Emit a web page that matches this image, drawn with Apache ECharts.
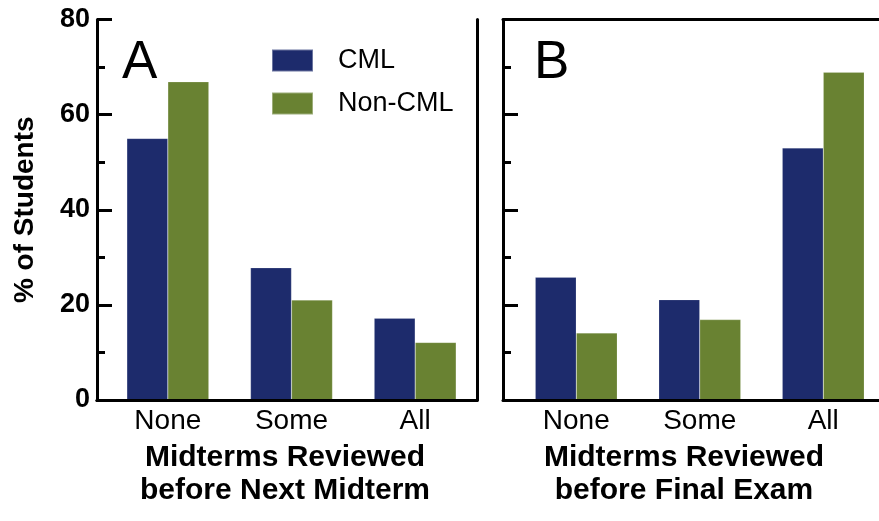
<!DOCTYPE html>
<html>
<head>
<meta charset="utf-8">
<script src="https://cdn.jsdelivr.net/npm/echarts@6/dist/echarts.min.js"></script>
<style>
  html, body { margin: 0; padding: 0; background: #fff; }
  #chart { width: 879px; height: 521px; }
</style>
</head>
<body>
<div id="chart"></div>
<script>
// Survey categories and percentages for the two panels
const categories = ['None', 'Some', 'All'];
const seriesNames = ['CML', 'Non-CML'];
const cmlBeforeNextMidterm = [55, 27.8, 17.2];
const nonCmlBeforeNextMidterm = [66.9, 21, 12.1];
const cmlBeforeFinal = [25.8, 21.1, 53];
const nonCmlBeforeFinal = [14.1, 16.9, 68.9];
const yTicks = [0, 20, 40, 60, 80];

const FONT = '"Liberation Sans", Arial, Helvetica, sans-serif';
const BLUE = '#1d2b6c';
const GREEN = '#698232';

const chart = echarts.init(document.getElementById('chart'));

const panelTop = 19.5, panelHeight = 380.5;
const yMin = yTicks[0], yMax = yTicks[yTicks.length - 1], yStep = yTicks[1] - yTicks[0];

function frameLine() { return { color: '#000', width: 3 }; }

// Left axis of a panel: line and optional labels / name
function frameY(gridIndex, showLabels, withName) {
  return {
    type: 'value', gridIndex: gridIndex, z: 50,
    min: yMin, max: yMax, interval: yStep,
    axisLine: { show: true, lineStyle: frameLine() },
    axisTick: { show: false },
    splitLine: { show: false },
    axisLabel: {
      show: showLabels, margin: 7, color: '#000',
      fontFamily: FONT, fontWeight: 'bold', fontSize: 27
    },
    name: withName ? '% of Students' : '',
    nameLocation: 'middle', nameGap: 58,
    nameTextStyle: { color: '#000', fontFamily: FONT, fontWeight: 'bold', fontSize: 28 }
  };
}

// Inward tick marks: split lines of a narrow strip along the left axis
function tickY(gridIndex, step) {
  return {
    type: 'value', gridIndex: gridIndex, z: 50,
    min: yMin, max: yMax, interval: step,
    axisLine: { show: false }, axisTick: { show: false }, axisLabel: { show: false },
    splitLine: { show: true, lineStyle: frameLine() }
  };
}
function hiddenX(gridIndex) {
  return { type: 'category', gridIndex: gridIndex, data: categories, show: false };
}

// Plain border lines on panel sides
function borderY(gridIndex) {
  return {
    type: 'value', gridIndex: gridIndex, position: 'right', z: 50,
    min: yMin, max: yMax, interval: yStep,
    axisLine: { show: true, lineStyle: frameLine() },
    axisTick: { show: false }, axisLabel: { show: false }, splitLine: { show: false }
  };
}
function borderX(gridIndex, position) {
  return {
    type: 'category', gridIndex: gridIndex, position: position, data: categories, z: 50,
    axisLine: { show: true, lineStyle: frameLine() },
    axisTick: { show: false }, axisLabel: { show: false }, splitLine: { show: false }
  };
}

function hiddenY(gridIndex) {
  return {
    type: 'value', gridIndex: gridIndex, show: false,
    min: yMin, max: yMax, interval: yStep, splitLine: { show: false }
  };
}

function barX(gridIndex) {
  return {
    type: 'category', gridIndex: gridIndex, data: categories,
    axisLine: { show: false }, axisTick: { show: false }, splitArea: { show: false },
    axisLabel: { color: '#000', fontFamily: FONT, fontSize: 28, margin: 7 }
  };
}

function barSeries(name, axisIndex, data, color) {
  return {
    type: 'bar', name: name, xAxisIndex: axisIndex, yAxisIndex: axisIndex, data: data,
    barWidth: 41, barGap: '0%',
    itemStyle: { color: color, borderColor: 'rgba(255,255,255,0.35)', borderWidth: 0.5 },
    emphasis: { disabled: true }
  };
}

function strip(left, width) {
  return {
    left: left, top: panelTop, width: width, height: panelHeight,
    containLabel: false, outerBoundsMode: 'none'
  };
}

chart.setOption({
  animation: false,
  backgroundColor: '#fff',
  grid: [
    strip(97, 380),      // 0 frame A
    strip(106, 371),     // 1 bars A
    strip(503, 420),     // 2 frame B
    strip(514.5, 370.5), // 3 bars B
    strip(97, 15),       // 4 major ticks A
    strip(97, 8),        // 5 minor ticks A
    strip(503, 15),      // 6 major ticks B
    strip(503, 8)        // 7 minor ticks B
  ],
  xAxis: [
    borderX(0, 'bottom'), barX(1), borderX(2, 'bottom'), barX(3),
    hiddenX(4), hiddenX(5), hiddenX(6), hiddenX(7),
    borderX(0, 'top'), borderX(2, 'top')
  ],
  yAxis: [
    frameY(0, true, true), hiddenY(1), frameY(2, false, false), hiddenY(3),
    tickY(4, yStep), tickY(5, yStep / 2), tickY(6, yStep), tickY(7, yStep / 2),
    borderY(0)
  ],
  legend: {
    orient: 'vertical', left: 271, top: 47, padding: 0,
    itemWidth: 41, itemHeight: 22, itemGap: 16,
    icon: 'rect', data: seriesNames,
    selectedMode: false,
    textStyle: { color: '#000', fontFamily: FONT, fontSize: 27, padding: [0, 0, 0, 20] }
  },
  title: [
    { text: 'A', left: 122, top: 37, padding: 0,
      textStyle: { color: '#000', fontFamily: FONT, fontWeight: 'normal', fontSize: 53 } },
    { text: 'B', left: 534, top: 37, padding: 0,
      textStyle: { color: '#000', fontFamily: FONT, fontWeight: 'normal', fontSize: 53 } },
    { text: 'Midterms Reviewed\nbefore Next Midterm', left: 285, top: 441, padding: 0, textAlign: 'center',
      textStyle: { color: '#000', fontFamily: FONT, fontWeight: 'bold', fontSize: 30, lineHeight: 33 } },
    { text: 'Midterms Reviewed\nbefore Final Exam', left: 684, top: 441, padding: 0, textAlign: 'center',
      textStyle: { color: '#000', fontFamily: FONT, fontWeight: 'bold', fontSize: 30, lineHeight: 33 } }
  ],
  series: [
    barSeries(seriesNames[0], 1, cmlBeforeNextMidterm, BLUE),
    barSeries(seriesNames[1], 1, nonCmlBeforeNextMidterm, GREEN),
    barSeries(seriesNames[0], 3, cmlBeforeFinal, BLUE),
    barSeries(seriesNames[1], 3, nonCmlBeforeFinal, GREEN)
  ]
});
</script>
</body>
</html>
